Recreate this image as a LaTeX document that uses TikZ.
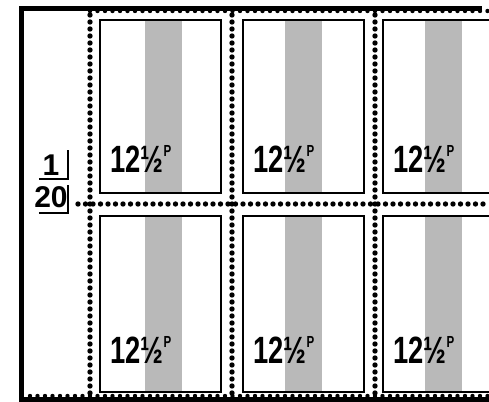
\documentclass[tikz,border=0pt]{standalone}
\usepackage{fontspec}
\setmainfont{Liberation Sans}
\begin{document}
\begin{tikzpicture}[x=0.5pt,y=-0.5pt,
  frame/.style={line width=2.5pt},
  stampbox/.style={draw,line width=1pt},
  stripe/.style={fill=gray!55,draw=none},
  perf/.style={fill=black,draw=none},
  val/.style={anchor=base west,inner sep=0pt,font=\bfseries\fontsize{19}{19}\selectfont},
  lbl/.style={anchor=base,inner sep=0pt,font=\bfseries\fontsize{15}{15}\selectfont}]
\useasboundingbox (0,0) rectangle (489,402);
\fill[white] (0,0) rectangle (489,402);
% gray stripes
\foreach \sx in {145,285,425}{
  \fill[stripe] (\sx,20) rectangle (\sx+37,193);
  \fill[stripe] (\sx,216) rectangle (\sx+37,392);
}
% stamp frames
\draw[stampbox] (100,20) rectangle (221,193);
\draw[stampbox] (243,20) rectangle (364,193);
\draw[stampbox] (489,20) -- (383,20) -- (383,193) -- (489,193);
\draw[stampbox] (100,216) rectangle (221,392);
\draw[stampbox] (243,216) rectangle (364,392);
\draw[stampbox] (489,216) -- (383,216) -- (383,392) -- (489,392);
% perforations
\foreach \px in {90,232,375}{
  \foreach \py in {15,22,...,398}{ \fill[perf] (\px,\py) circle (1.35pt); }
}
\foreach \px in {78,85.5,...,489}{ \fill[perf] (\px,204) circle (1.35pt); }
\foreach \px in {90,97.5,...,489}{ \fill[perf] (\px,11) circle (1.1pt); }
\foreach \px in {30,37.5,...,489}{ \fill[perf] (\px,396) circle (1.1pt); }
% sheet frame
\draw[frame] (22,402) -- (22,8) -- (482,8);
\draw[frame] (22,399) -- (489,399);
% values
\foreach \nm/\tx/\ty in {a/110/172,b/253/172,c/393/172,d/110/363,e/253/363,f/393/363}{
  \node[val] (v\nm) at (\tx,\ty) {\scalebox{0.72}[1]{12½\raisebox{0.42em}{\fontsize{8}{8}\selectfont P}}};
}
% sheet label
\node[lbl] (one) at (51,175) {1};
\node[lbl] (twenty) at (51,207) {20};
\draw[line width=1.3pt] (39,179) -- (68,179) -- (68,150);
\draw[line width=1.3pt] (39,213) -- (68,213) -- (68,185);
\end{tikzpicture}
\end{document}
